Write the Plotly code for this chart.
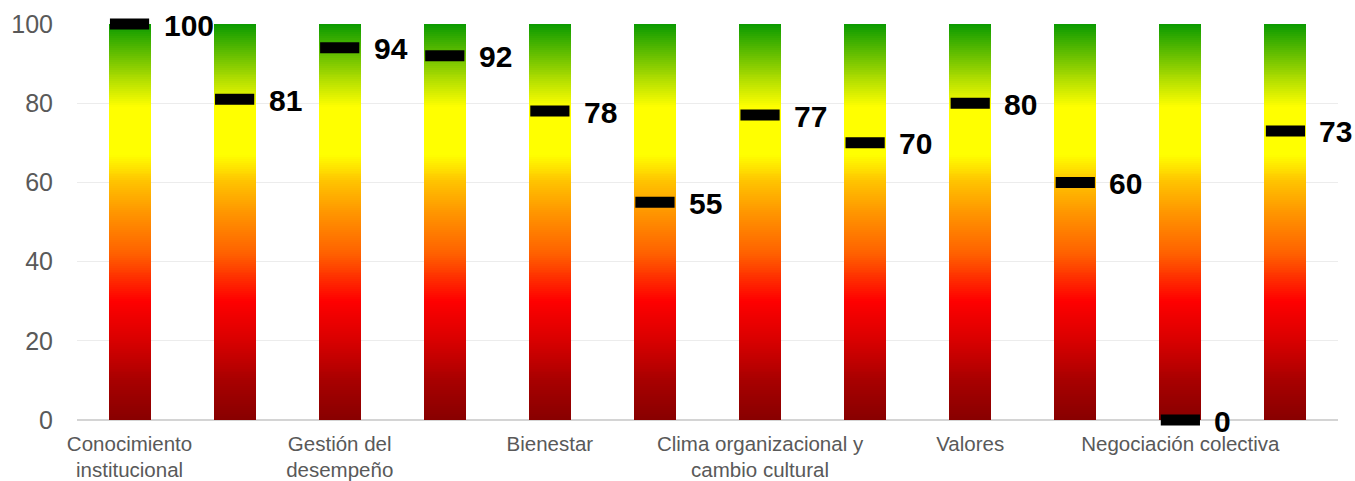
import plotly.graph_objects as go

# ---- data ----
label_positions = [0, 2, 4, 6, 8, 10]
category_labels = [
    "Conocimiento<br>institucional",
    "Gestión del<br>desempeño",
    "Bienestar",
    "Clima organizacional y<br>cambio cultural",
    "Valores",
    "Negociación colectiva",
]
values = [100, 81, 94, 92, 78, 55, 77, 70, 80, 60, 0, 73]
track_max = 100
y_ticks = [0, 20, 40, 60, 80, 100]

# ---- gradient tracks built from stacked thin segments ----
n_seg = 200
step = track_max / n_seg
seg_x, seg_base, seg_h, seg_c = [], [], [], []
for i in range(len(values)):
    for k in range(n_seg):
        seg_x.append(i)
        seg_base.append(k * step)
        seg_h.append(min(step * 1.6, track_max - k * step))
        seg_c.append((k + 0.5) * step)

colorscale = [
    [0.0, "#880000"],
    [0.10, "#a80000"],
    [0.20, "#d80000"],
    [0.30, "#ff0000"],
    [0.42, "#ff6000"],
    [0.52, "#ff9400"],
    [0.60, "#ffc200"],
    [0.67, "#ffff00"],
    [0.79, "#ffff00"],
    [0.88, "#9ad400"],
    [1.0, "#0a9a00"],
]

fig = go.Figure()
fig.add_trace(go.Bar(
    x=seg_x, y=seg_h, base=seg_base, width=0.4,
    marker=dict(color=seg_c, colorscale=colorscale, cmin=0, cmax=track_max,
                line=dict(width=0)),
    hoverinfo="skip", showlegend=False,
))

idx = list(range(len(values)))
fig.add_trace(go.Scatter(
    x=idx, y=values, mode="markers",
    marker=dict(symbol="line-ew", size=28, line=dict(width=11, color="black"), color="black"),
    cliponaxis=False, showlegend=False, hoverinfo="skip",
))

for i, v in zip(idx, values):
    fig.add_annotation(
        x=i, y=v, text=f"<b>{v}</b>", showarrow=False,
        xanchor="left", yanchor="middle", xshift=32, yshift=-1,
        font=dict(family="Liberation Sans, Arial", size=30, color="black"),
    )

fig.update_layout(
    width=1355, height=481,
    margin=dict(l=77, r=17, t=24, b=61),
    plot_bgcolor="white", paper_bgcolor="white",
    bargap=0, barmode="overlay",
    font=dict(family="Liberation Sans, Arial", color="#595959"),
    xaxis=dict(
        range=[-0.5, len(values) - 0.5], tickmode="array",
        tickvals=label_positions, ticktext=category_labels,
        showgrid=False, zeroline=False, showline=False, automargin=False,
        tickfont=dict(size=20.5, color="#595959"), ticks="", ticklabelstandoff=9,
    ),
    yaxis=dict(
        range=[0, track_max], tickmode="array", tickvals=y_ticks,
        showgrid=True, gridcolor="#ececec", gridwidth=1, automargin=False,
        zeroline=True, zerolinecolor="#d4d4d4", zerolinewidth=2,
        tickfont=dict(size=25, color="#595959"), ticklabelstandoff=23,
        showline=False,
    ),
)

fig.write_html(
    "out.html",
    config={"displayModeBar": False},
    post_script="document.body.style.margin='0';document.body.style.overflow='hidden';",
)
